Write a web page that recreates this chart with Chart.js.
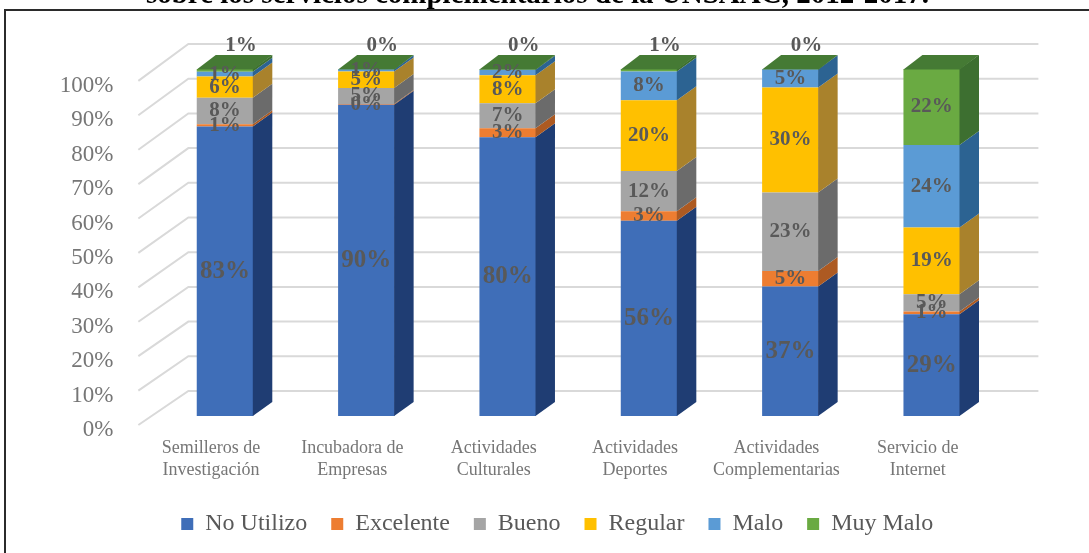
<!DOCTYPE html>
<html><head><meta charset="utf-8">
<script src="https://cdn.jsdelivr.net/npm/chart.js@4.4.1/dist/chart.umd.min.js"></script>
<style>
html,body{margin:0;padding:0;background:#fff;}
#wrap{position:relative;width:1089px;height:553px;overflow:hidden;background:#fff;}
#title{position:absolute;left:0;top:-21px;width:1075px;text-align:center;font:bold 29px/29px 'Liberation Serif',serif;color:#000;white-space:nowrap;}
#frame{position:absolute;left:4px;top:9px;width:1083px;height:560px;border-left:2px solid #2b2b2b;border-top:2px solid #2b2b2b;pointer-events:none;}
canvas{position:absolute;left:0;top:0;}
</style></head>
<body><div id="wrap"><canvas id="c" width="1089" height="553"></canvas><div id="title">sobre los servicios complementarios de la UNSAAC, 2012-2017.</div><div id="frame"></div></div>
<script>
// ---- data ----
const categories = [["Semilleros de","Investigación"],["Incubadora de","Empresas"],["Actividades","Culturales"],["Actividades","Deportes"],["Actividades","Complementarias"],["Servicio de","Internet"]];
const seriesNames = ["No Utilizo","Excelente","Bueno","Regular","Malo","Muy Malo"];
const noUtilizo = [83.4, 89.7, 80.3, 56.3, 37.3, 29.3];
const excelente = [0.7, 0.2, 2.6, 2.7, 4.5, 0.8];
const bueno     = [7.6, 4.6, 7.2, 11.6, 22.6, 5.0];
const regular   = [6.1, 4.8, 8.1, 20.4, 30.3, 19.2];
const malo      = [1.4, 0.6, 1.6, 8.3, 5.2, 23.8];
const muyMalo   = [0.8, 0.1, 0.2, 0.7, 0.1, 21.9];
const yTickValues = [0, 10, 20, 30, 40, 50, 60, 70, 80, 90, 100];

// ---- styles ----
const frontColors = ['#3F6EB8', '#ED7D31', '#A5A5A5', '#FFC000', '#5B9BD5', '#6AAA42'];
const sideColors  = ['#1F3D73', '#AD5A22', '#6B6B6B', '#A9822C', '#2C6392', '#3D6F30'];
const topFaceColor = '#457A34';
const SERIF = "'Liberation Serif', 'Times New Roman', serif";
const DEPTH = {dx: 19, dy: -14};
const WALL = {dx: 34, dy: -25, right: 36};
const PLOT_BOTTOM = 427;
const PAD_BOTTOM = 7;
const LEGEND_SHIFT = 56;

const seriesValues = [noUtilizo, excelente, bueno, regular, malo, muyMalo];

const threeD = {
  id: 'threeD',
  afterLayout(chart) {
    const lg = chart.legend;
    if (lg) { lg.left += LEGEND_SHIFT; lg.right += LEGEND_SHIFT; }
  },
  beforeDatasetsDraw(chart) {
    const {ctx, chartArea} = chart;
    const ys = chart.scales.y, yl = chart.scales.yl;
    ctx.save();
    ctx.strokeStyle = '#D9D9D9';
    ctx.lineWidth = 2;
    yl.ticks.forEach(t => {
      const yw = ys.getPixelForValue(t.value) + WALL.dy;
      const ylab = yl.getPixelForValue(t.value) - 5;
      ctx.beginPath();
      ctx.moveTo(yl.right - 16, ylab);
      ctx.lineTo(chartArea.left + WALL.dx, yw);
      ctx.lineTo(chartArea.right + WALL.right, yw);
      ctx.stroke();
    });
    ctx.restore();
  },
  afterDatasetsDraw(chart) {
    const ctx = chart.ctx;
    const n = chart.data.datasets.length;
    ctx.save();
    for (let d = 0; d < n; d++) {
      const meta = chart.getDatasetMeta(d);
      meta.data.forEach(el => {
        const p = el.getProps(['x', 'y', 'base', 'width'], true);
        const right = p.x + p.width / 2;
        const top = Math.min(p.y, p.base), bottom = Math.max(p.y, p.base);
        ctx.fillStyle = sideColors[d];
        ctx.beginPath();
        ctx.moveTo(right - 0.5, top);
        ctx.lineTo(right + DEPTH.dx, top + DEPTH.dy);
        ctx.lineTo(right + DEPTH.dx, bottom + DEPTH.dy);
        ctx.lineTo(right - 0.5, bottom);
        ctx.closePath();
        ctx.fill();
      });
    }
    const lastMeta = chart.getDatasetMeta(n - 1);
    lastMeta.data.forEach(el => {
      const p = el.getProps(['x', 'y', 'base', 'width'], true);
      const left = p.x - p.width / 2, right = p.x + p.width / 2;
      const top = Math.min(p.y, p.base);
      ctx.fillStyle = topFaceColor;
      ctx.beginPath();
      ctx.moveTo(left, top + 0.5);
      ctx.lineTo(left + DEPTH.dx, top + DEPTH.dy);
      ctx.lineTo(right + DEPTH.dx, top + DEPTH.dy);
      ctx.lineTo(right, top + 0.5);
      ctx.closePath();
      ctx.fill();
    });
    ctx.fillStyle = '#595959';
    ctx.textAlign = 'center';
    ctx.textBaseline = 'middle';
    for (let d = 0; d < n; d++) {
      const meta = chart.getDatasetMeta(d);
      const vals = chart.data.datasets[d].data;
      ctx.font = 'bold ' + (d === 0 ? 25 : 21) + 'px ' + SERIF;
      meta.data.forEach((el, i) => {
        const p = el.getProps(['x', 'y', 'base', 'width'], true);
        const v = vals[i];
        const txt = Math.round(v) + '%';
        let x = p.x, y = (p.y + p.base) / 2;
        if (d === n - 1 && v < 3) {
          x = p.x + 16;
          y = Math.min(p.y, p.base) - 23;
        }
        ctx.fillText(txt, x, y);
      });
    }
    ctx.restore();
  }
};

function noScalePadding(s) { s.paddingTop = 0; s.paddingBottom = 0; s.paddingLeft = 0; s.paddingRight = 0; }

new Chart(document.getElementById('c'), {
  type: 'bar',
  data: {
    labels: categories,
    datasets: seriesNames.map((name, i) => ({
      label: name,
      data: seriesValues[i],
      backgroundColor: frontColors[i],
      borderWidth: 0,
      yAxisID: 'y',
      categoryPercentage: 1,
      barPercentage: 0.4
    }))
  },
  options: {
    responsive: false,
    animation: false,
    layout: {padding: {top: 44, right: 86.6, left: 0, bottom: PAD_BOTTOM}},
    plugins: {
      tooltip: {enabled: false},
      title: {display: false},
      legend: {
        position: 'bottom',
        labels: {
          boxWidth: 12, boxHeight: 12, padding: 24,
          color: '#595959',
          font: {family: SERIF, size: 24}
        }
      }
    },
    scales: {
      x: {
        stacked: true,
        offset: true,
        grid: {display: false, drawTicks: false},
        border: {display: false},
        ticks: {
          color: '#767676',
          font: {family: SERIF, size: 18, lineHeight: 1.25},
          padding: 10,
          labelOffset: -14,
          maxRotation: 0,
          autoSkip: false
        },
        afterFit(s) {
          noScalePadding(s);
          const lg = s.chart.legend;
          s.height = s.chart.height - PAD_BOTTOM - (lg ? lg.height : 0) - PLOT_BOTTOM;
        }
      },
      y: {
        stacked: true,
        min: -3.17,
        max: 107.2,
        display: false
      },
      yl: {
        position: 'left',
        min: 0.87,
        max: 112.17,
        grid: {display: false, drawTicks: false},
        border: {display: false},
        ticks: {
          color: '#767676',
          font: {family: SERIF, size: 23},
          padding: 41,
          callback: v => v + '%'
        },
        afterBuildTicks(s) { s.ticks = yTickValues.map(v => ({value: v})); },
        afterFit(s) { noScalePadding(s); s.width = 154.35; }
      }
    }
  },
  plugins: [threeD]
});
</script>
</body></html>
